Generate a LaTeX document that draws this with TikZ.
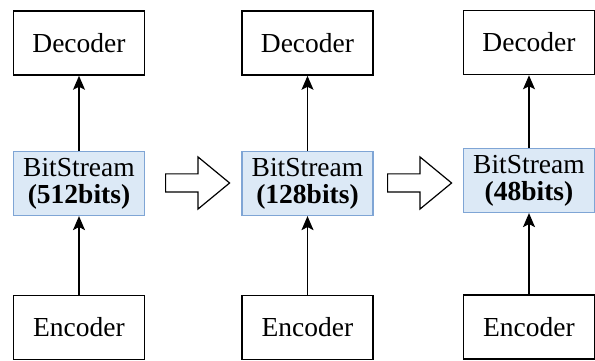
\documentclass[tikz,border=0pt]{standalone}
\usepackage{fontspec}
\setmainfont{Liberation Serif}[BoldFont={Liberation Serif Bold}]
\usetikzlibrary{arrows.meta,shapes.arrows}
\definecolor{bitfill}{HTML}{DCE9F6}
\definecolor{bitline}{HTML}{7FA5D5}

\begin{document}
\begin{tikzpicture}[x=1pt, y=1pt,
    box/.style={draw, line width=1.6pt, minimum width=131pt, minimum height=64pt, inner sep=0pt, font=\fontsize{27.5}{27}\selectfont},
    bitbox/.style={box, draw=bitline, line width=1.2pt, fill=bitfill, align=center},
    link/.style={line width=1.3pt, -{Stealth[length=14pt, width=12pt, inset=3pt]}},
    shiftarrow/.style={single arrow, draw, line width=1.2pt, inner xsep=0pt, inner ysep=8.5pt, minimum width=0pt, minimum height=64pt, single arrow head extend=17pt, single arrow tip angle=79, anchor=tail}]
		%%%%% START %%%%%
		\useasboundingbox (0, 0) rectangle (595, 361);
		
		% first stage
		\node[box] (dec1) at (79, 318) {Decoder};
		\node[bitbox] (bit1) at (79, 177.5) {BitStream\\\textbf{(512bits)}};
		\node[box] (enc1) at (79, 33.5) {Encoder};
		
		% second stage
		\node[box] (dec2) at (307.5, 318) {Decoder};
		\node[bitbox] (bit2) at (307.5, 177.5) {BitStream\\\textbf{(128bits)}};
		\node[box] (enc2) at (307.5, 33.5) {Encoder};
		
		% third stage
		\node[box] (dec3) at (529, 318.5) {Decoder};
		\node[bitbox] (bit3) at (529, 180.5) {BitStream\\\textbf{(48bits)}};
		\node[box] (enc3) at (529, 34) {Encoder};
		
		\draw[link] (enc1) -- (bit1);
		\draw[link] (bit1) -- (dec1);
		\draw[link] (enc2) -- (bit2);
		\draw[link] (bit2) -- (dec2);
		\draw[link] (enc3) -- (bit3);
		\draw[link] (bit3) -- (dec3);
		
		\node[shiftarrow] (step1) at (165, 178) {};
		\node[shiftarrow] (step2) at (387, 178) {};
		
		%%%%% END %%%%%
	\end{tikzpicture}
\end{document}
